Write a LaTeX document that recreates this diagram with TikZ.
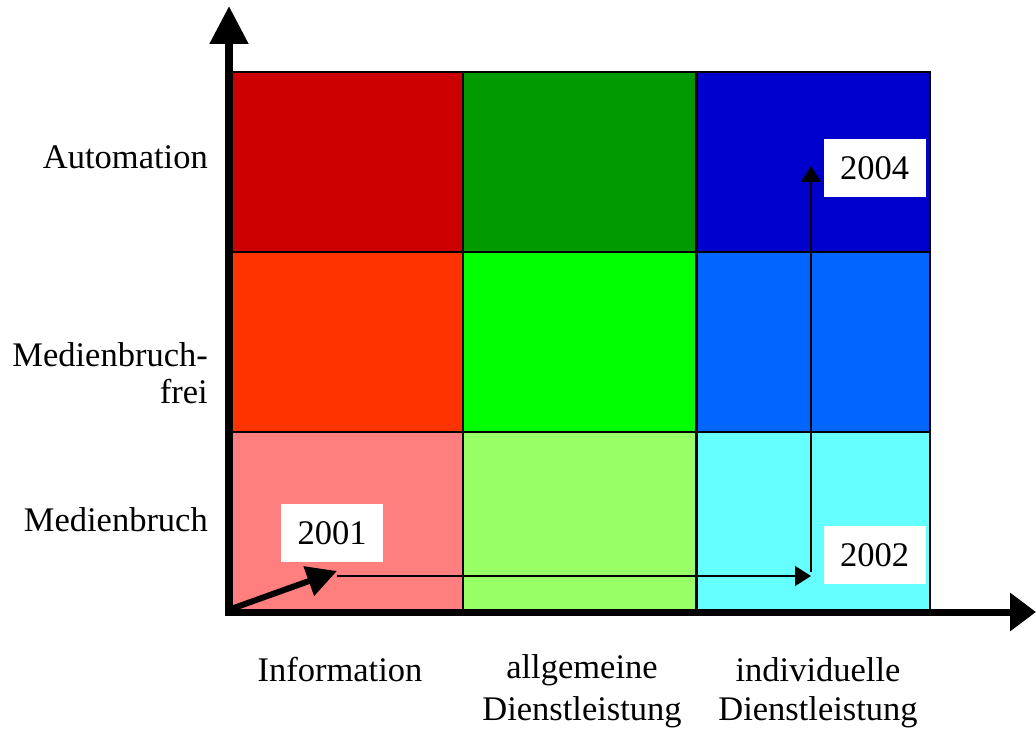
\documentclass[tikz,border=0pt]{standalone}
\usepackage{fontspec}
\setmainfont{Liberation Serif}
\usetikzlibrary{arrows.meta}
\definecolor{cA}{HTML}{CC0000}
\definecolor{cB}{HTML}{009900}
\definecolor{cC}{HTML}{0000CC}
\definecolor{cD}{HTML}{FF3300}
\definecolor{cE}{HTML}{00FF00}
\definecolor{cF}{HTML}{0066FF}
\definecolor{cG}{HTML}{FF7F7F}
\definecolor{cH}{HTML}{99FF66}
\definecolor{cI}{HTML}{66FFFF}
\tikzset{
  cell/.style={draw=black, line width=2pt, minimum width=233pt, minimum height=180pt, inner sep=0pt, outer sep=0pt},
  yearbox/.style={fill=white, minimum width=102pt, minimum height=58pt, inner sep=0pt, font=\fontsize{34.5}{40}\selectfont},
  lab/.style={font=\fontsize{34.5}{40}\selectfont, inner sep=0pt},
  axis/.style={line width=8pt},
  thin/.style={line width=1.3pt, -{Triangle[length=16pt,width=20pt]}}
}
\begin{document}
\begin{tikzpicture}[x=1pt,y=-1pt]
\useasboundingbox (0,0) rectangle (1036,738);
% cells
\node[cell, fill=cA] (c11) at (346.5,162) {};
\node[cell, fill=cB] (c12) at (579.5,162) {};
\node[cell, fill=cC] (c13) at (813,162) {};
\node[cell, fill=cD] (c21) at (346.5,342) {};
\node[cell, fill=cE] (c22) at (579.5,342) {};
\node[cell, fill=cF] (c23) at (813,342) {};
\node[cell, fill=cG] (c31) at (346.5,522) {};
\node[cell, fill=cH] (c32) at (579.5,522) {};
\node[cell, fill=cI] (c33) at (813,522) {};
% axes
\coordinate (O) at (229,612);
\coordinate (ytop) at (229,6);
\coordinate (xend) at (1036,612);
\draw[axis, -{Triangle[length=38pt,width=37pt]}] (229,616) -- (ytop);
\draw[line width=7pt, -{Triangle[length=26pt,width=37pt]}] (226,612) -- (xend);
% year boxes
\node[yearbox] (y2001) at (332,533) {2001};
\node[yearbox] (y2004) at (874.5,168.5) {2004};
\node[yearbox] (y2002) at (874.5,555) {2002};
% path arrows
\coordinate (a) at (337,571);
\coordinate (a2) at (337,576);
\coordinate (b) at (811,576);
\coordinate (c) at (811,166);
\draw[line width=6pt, -{Triangle[length=30pt,width=30pt]}] (231,609) -- (a);
\draw[thin] (a2) -- (b);
\draw[thin] (811,572) -- (c);
% axis labels
\node[lab, anchor=east] (lAuto) at (208,157) {Automation};
\node[lab, anchor=east] (lMbf1) at (208,355) {Medienbruch-};
\node[lab, anchor=east] (lMbf2) at (208,392) {frei};
\node[lab, anchor=east] (lMb) at (208,520) {Medienbruch};
\node[lab] (lInfo) at (340,670) {Information};
\node[lab] (lAll1) at (582,670) {allgemeine};
\node[lab] (lAll2) at (582,712) {Dienstleistung};
\node[lab] (lInd1) at (818,670) {individuelle};
\node[lab] (lInd2) at (818,712) {Dienstleistung};
\end{tikzpicture}
\end{document}
